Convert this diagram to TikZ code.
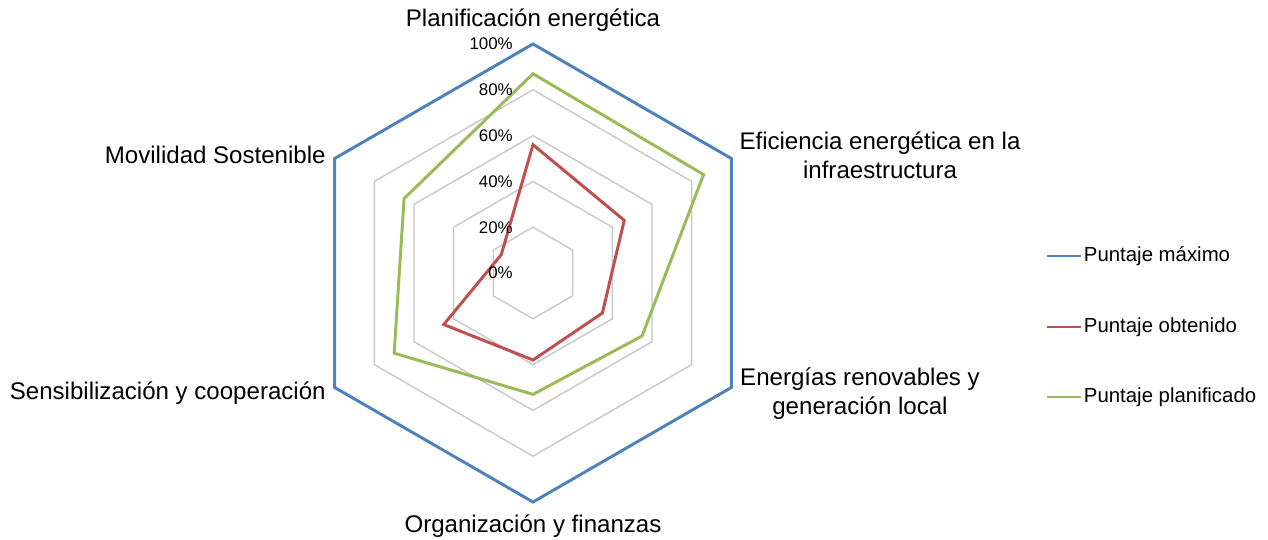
\documentclass[tikz,border=0pt]{standalone}
\usepackage{fontspec}
\setmainfont{Liberation Sans}
\usepackage{tikz}

\definecolor{maxblue}{RGB}{79,129,189}
\definecolor{obtred}{RGB}{192,80,77}
\definecolor{plangreen}{RGB}{155,187,89}
\definecolor{gridgray}{RGB}{200,200,200}

\tikzset{
  grid line/.style={draw=gridgray,line width=0.8pt},
  serie/.style={line width=1.7pt,line join=miter},
  cat label/.style={font=\fontsize{13.7}{16.5}\selectfont,align=center,inner sep=0pt},
  tick label/.style={font=\fontsize{9.6}{11}\selectfont,anchor=east,inner sep=0pt},
  leg label/.style={font=\fontsize{11.6}{14}\selectfont,anchor=west,inner sep=1.5pt},
}

\begin{document}
\begin{tikzpicture}[x=0.02cm,y=0.02cm]
\useasboundingbox (-533,-267) rectangle (735,273);

% grid hexagons
\foreach \p in {20,40,60,80}{
  \pgfmathsetmacro\r{\p*2.29}
  \foreach \i in {0,...,5}{
    \coordinate (g\p\i) at ({90-60*\i}:\r);
  }
  \draw[grid line] (g\p0) -- (g\p1) -- (g\p2) -- (g\p3) -- (g\p4) -- (g\p5) -- cycle;
}

% data points
\foreach \v [count=\i from 0] in {100,100,100,100,100,100}{
  \coordinate (max\i) at ({90-60*\i}:\v*2.29);
}
\foreach \v [count=\i from 0] in {56,46,35,38,45,16}{
  \coordinate (obt\i) at ({90-60*\i}:\v*2.29);
}
\foreach \v [count=\i from 0] in {87,86,55,53,70,65}{
  \coordinate (pla\i) at ({90-60*\i}:\v*2.29);
}

\draw[serie,maxblue] (max0) -- (max1) -- (max2) -- (max3) -- (max4) -- (max5) -- cycle;
\draw[serie,obtred] (obt0) -- (obt1) -- (obt2) -- (obt3) -- (obt4) -- (obt5) -- cycle;
\draw[serie,plangreen] (pla0) -- (pla1) -- (pla2) -- (pla3) -- (pla4) -- (pla5) -- cycle;

% axis labels
\foreach \p in {0,20,...,100}{
  \node[tick label] (tick\p) at (-20,\p*2.29) {\p\%};
}

% categories
\node[cat label] (plan) at (0,253) {Planificación energética};
\node[cat label] (efic) at (347,118) {Eficiencia energética en la\\infraestructura};
\node[cat label] (ener) at (327,-121) {Energías renovables y\\generación local};
\node[cat label] (orga) at (0,-253) {Organización y finanzas};
\node[cat label,anchor=east] (sens) at (-207,-120) {Sensibilización y cooperación};
\node[cat label,anchor=east] (movi) at (-207,118) {Movilidad Sostenible};

% legend
\node[leg label] (legmax) at (548,17) {Puntaje máximo};
\node[leg label] (legobt) at (548,-54) {Puntaje obtenido};
\node[leg label] (legpla) at (548,-124) {Puntaje planificado};
\coordinate (lmax) at (514,17);
\coordinate (lobt) at (514,-54);
\coordinate (lpla) at (514,-124);
\draw[maxblue,line width=1.1pt] (lmax) -- (legmax.west);
\draw[obtred,line width=1.1pt] (lobt) -- (legobt.west);
\draw[plangreen,line width=1.1pt] (lpla) -- (legpla.west);
\end{tikzpicture}
\end{document}
